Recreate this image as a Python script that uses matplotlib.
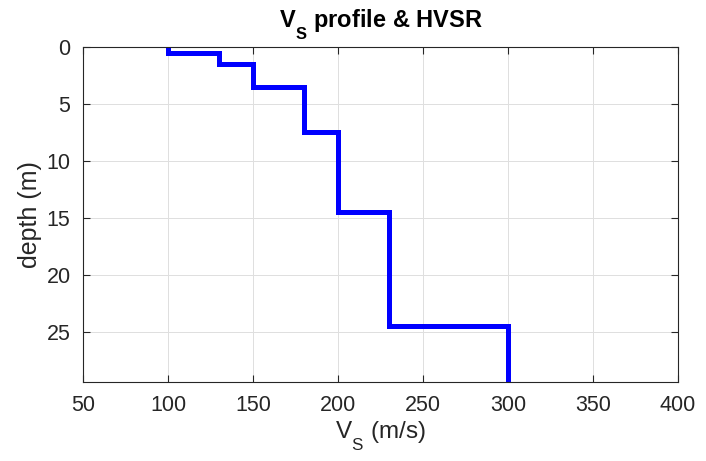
import matplotlib
matplotlib.use("Agg")
import matplotlib.pyplot as plt
import numpy as np

plt.rcParams['font.family'] = ['Liberation Sans', 'DejaVu Sans']
plt.rcParams['mathtext.fontset'] = 'custom'
plt.rcParams['mathtext.rm'] = 'Liberation Sans'
plt.rcParams['mathtext.bf'] = 'Liberation Sans:bold'

# MATLAB drops subscripts lower than mathtext does
try:
    from matplotlib import _mathtext
    _mathtext.FontConstantsBase.sub1 = 0.9
except Exception:
    pass

# layer velocities (m/s) and layer tops/bottoms (m)
vs = [100, 130, 150, 180, 200, 230, 300]
tops = [0, 0.5, 1.5, 3.5, 7.5, 14.5, 24.5]
bottoms = [0.5, 1.5, 3.5, 7.5, 14.5, 24.5, 30]

x = []
y = []
for v, t, b in zip(vs, tops, bottoms):
    x += [v, v]
    y += [t, b]

fig = plt.figure(figsize=(7.06, 4.61), dpi=100)
ax = fig.add_axes([83 / 706, 79 / 461, 595 / 706, 335 / 461])
ax.plot(x, y, color=(0, 0, 1), lw=3.6, solid_joinstyle='miter')

ax.set_xlim(50, 400)
ax.set_ylim(29.4, 0)
ax.set_xticks(np.arange(50, 401, 50))
ax.set_yticks([0, 5, 10, 15, 20, 25])
ax.grid(True, color='#dfdfdf', lw=0.7)
ax.set_axisbelow(True)
for s in ax.spines.values():
    s.set_color('#262626')
    s.set_linewidth(0.8)
ax.tick_params(direction='in', top=True, right=True, labelsize=15.5,
               colors='#262626', length=5, width=0.8, pad=9)
ax.set_xlabel(r'V$_\mathregular{S}$ (m/s)', fontsize=17.5, color='#262626', labelpad=3)
ax.set_ylabel('depth (m)', fontsize=18, color='#262626', labelpad=3)
ax.set_title(r'V$_\mathbf{S}$ profile & HVSR', fontsize=17, fontweight='bold', pad=14)

fig.savefig('out.png', dpi=100)
